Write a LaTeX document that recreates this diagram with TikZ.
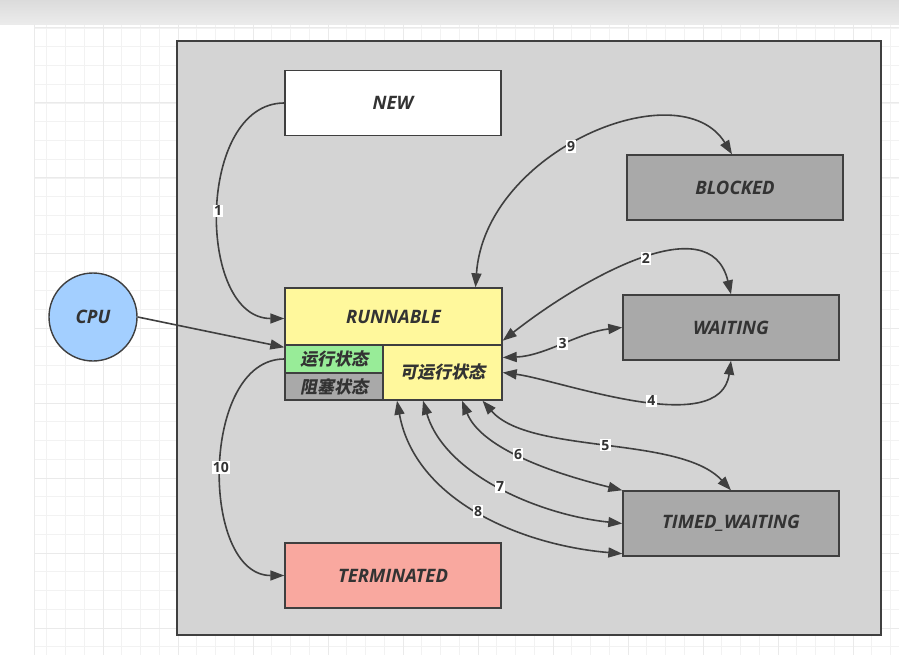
\documentclass[tikz,border=0pt]{standalone}
\usepackage{fontspec}
\setmainfont{Open Sans}
\newfontfamily\cjk{Noto Sans CJK SC}[FakeSlant=0.2]
\usetikzlibrary{arrows.meta,calc}
\definecolor{lineC}{HTML}{3F3F3F}
\definecolor{txtC}{HTML}{333333}
\definecolor{boxbg}{HTML}{D4D4D4}
\definecolor{stgray}{HTML}{A9A9A9}
\definecolor{runY}{HTML}{FFF89C}
\definecolor{runG}{HTML}{98EC98}
\definecolor{termR}{HTML}{F9A89F}
\definecolor{cpuB}{HTML}{A3CFFF}
\definecolor{gridA}{HTML}{F2F2F2}
\definecolor{gridB}{HTML}{EAEAEA}
\tikzset{
  statebox/.style={draw=lineC, line width=1.4pt, minimum width=216pt, minimum height=65pt, inner sep=0pt,
    font=\fontsize{18.5}{21}\selectfont\bfseries\itshape, text=txtC},
  cjkbox/.style={draw=lineC, line width=1.4pt, inner sep=0pt,
    font=\cjk\fontsize{17}{19}\selectfont\bfseries, text=txtC},
  conn/.style={draw=lineC, line width=1.6pt},
  twoway/.style={conn, arrows={Triangle[length=14pt,width=10pt]-Triangle[length=14pt,width=10pt]}},
  oneway/.style={conn, arrows={-Triangle[length=14pt,width=10pt]}},
  lbl/.style={fill=white, inner sep=1.2pt, font=\fontsize{14}{15}\selectfont\bfseries, text=txtC}
}
\begin{document}
\begin{tikzpicture}[x=1pt,y=-1pt]
\useasboundingbox (0,0) rectangle (899,655);
\fill[white] (0,0) rectangle (899,655);
\shade[top color=gray!28, bottom color=gray!15] (0,0) rectangle (899,25);
% grid
\foreach \i in {-3,...,42} \draw[gridA, line width=0.8pt] ({103+18.75*\i},25) -- ({103+18.75*\i},655);
\foreach \k in {0,...,33} \draw[gridA, line width=0.8pt] (34,{28+18.75*\k}) -- (899,{28+18.75*\k});
\foreach \i in {0,...,10} \draw[gridB, line width=1pt] ({103+75*\i},25) -- ({103+75*\i},655);
\foreach \k in {0,...,8} \draw[gridB, line width=1pt] (34,{28+75*\k}) -- (899,{28+75*\k});
\draw[gridB, line width=1pt] (34,25) -- (34,655);
% main frame
\node[draw=lineC, fill=boxbg, line width=1.8pt, minimum width=704pt, minimum height=594pt, inner sep=0pt] (frame) at (529,338) {};
% states
\node[statebox, fill=white] (new) at (393,103) {NEW};
\node[statebox, fill=stgray] (blocked) at (735,187.5) {BLOCKED};
\node[statebox, fill=stgray] (waiting) at (731,327.5) {WAITING};
\node[statebox, fill=stgray] (timed) at (731,523.5) {TIMED\_WAITING};
\node[statebox, fill=termR] (term) at (393,575.5) {TERMINATED};
\node[statebox, fill=runY, minimum width=217pt, minimum height=57pt] (run) at (393.5,316.5) {RUNNABLE};
\node[cjkbox, fill=runG, minimum width=98pt, minimum height=28pt] (runG) at (334,359) {运行状态};
\node[cjkbox, fill=stgray, minimum width=98pt, minimum height=27pt] (runB) at (334,386.5) {阻塞状态};
\node[cjkbox, fill=runY, minimum width=119pt, minimum height=55pt] (runR) at (442.5,372.5) {可运行状态};
\node[circle, draw=lineC, line width=1.4pt, fill=cpuB, minimum size=88pt, inner sep=0pt,
  font=\fontsize{18.5}{21}\selectfont\bfseries\itshape, text=txtC] (cpu) at (93,317) {CPU};
% connectors
\draw[oneway] (new.west) to[out=180,in=180,looseness=1.05] node[lbl,pos=0.5]{1} ([yshift=-2pt]run.west);
\draw[oneway] (cpu.east) -- ([yshift=-3pt]runG.north west);
\draw[oneway] (runG.west) to[out=180,in=180,looseness=1.0] node[lbl,pos=0.5]{10} (term.west);
\draw[twoway] ([xshift=82pt]run.north) .. controls (485,150) and (680,70) .. node[lbl,pos=0.45]{9} ([xshift=-3pt]blocked.north);
\draw[twoway] ([yshift=5pt]run.south east) .. controls (580,280) and (710,205) .. node[lbl,pos=0.53]{2} (waiting.north);
\draw[twoway] ([yshift=15pt]runR.east) .. controls (545,356) and (580,332) .. node[lbl,pos=0.5]{3} (waiting.west);
\draw[twoway] (runR.east) .. controls (560,380) and (720,440) .. node[lbl,pos=0.56]{4} (waiting.south);
\draw[twoway] ([xshift=40pt]runR.south) .. controls (530,455) and (680,435) .. node[lbl,pos=0.5]{5} (timed.north);
\draw[twoway] ([xshift=19.5pt]runR.south) .. controls (480,445) and (540,470) .. node[lbl,pos=0.5]{6} (timed.north west);
\draw[twoway] ([xshift=-19.5pt]runR.south) .. controls (445,475) and (540,515) .. node[lbl,pos=0.5]{7} (timed.west);
\draw[twoway] ([xshift=-45.5pt]runR.south) .. controls (415,500) and (520,545) .. node[lbl,pos=0.5]{8} ([yshift=3pt]timed.south west);
\end{tikzpicture}
\end{document}
